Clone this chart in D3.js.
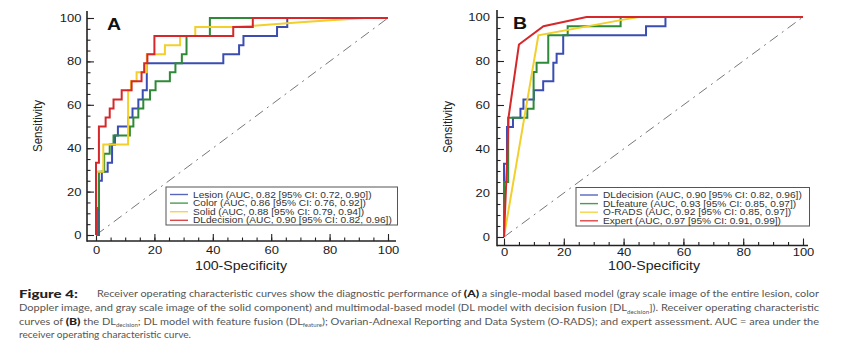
<!DOCTYPE html>
<html>
<head>
<meta charset="utf-8">
<script src="https://cdn.jsdelivr.net/npm/d3@7"></script>
<style>
body { margin: 0; background: #fff; }
svg { display: block; }
</style>
</head>
<body>
<svg id="chart" width="848" height="344"></svg>
<script>
// tick values shared by both panels
var xTicks = [0, 20, 40, 60, 80, 100];
var yTicks = [0, 20, 40, 60, 80, 100];
var minorTicks = [0, 5, 10, 15, 20, 25, 30, 35, 40, 45, 50, 55, 60, 65, 70, 75, 80, 85, 90, 95, 100];

// panel A curves, points are [100-specificity, sensitivity]
var lesionA = [[0,0],[1,0],[1,25],[2,25],[2,29.2],[4,29.2],[4,33.3],[5.5,33.3],[5.5,41.7],[6.5,41.7],[6.5,45.8],[7.5,45.8],[7.5,50],[11,50],[11,54.2],[12.5,54.2],[12.5,58.3],[14.5,58.3],[14.5,62.5],[16,62.5],[16,66.7],[17.4,66.7],[17.4,79.2],[43.6,79.2],[43.6,83.3],[49,83.3],[49,87.5],[50.5,87.5],[50.5,91.7],[62,91.7],[62,95.8],[65.5,95.8],[65.5,100],[100,100]];
var colorA = [[0,0],[0.5,0],[0.5,12.5],[1,12.5],[1,29.2],[2.8,29.2],[2.8,37.5],[4.7,37.5],[4.7,41.7],[6,41.7],[6,45.8],[11.6,45.8],[11.6,50],[12.8,50],[12.8,54.2],[14.5,54.2],[14.5,58.3],[16.2,58.3],[16.2,62.5],[18.5,62.5],[18.5,66.7],[20.4,66.7],[20.4,70.8],[25.3,70.8],[25.3,75],[27.2,75],[27.2,79.2],[29.4,79.2],[29.4,83.3],[31,83.3],[31,91.7],[39,91.7],[39,100],[100,100]];
var solidA = [[0,0],[0,29.2],[2.5,29.2],[2.5,41.7],[11,41.7],[11,66.7],[12,66.7],[12,70.8],[13.9,70.8],[13.9,75],[17.4,75],[17.4,83.3],[23.6,83.3],[23.6,87.5],[28.8,87.5],[28.8,91.7],[34,91.7],[34,95.8],[47,95.8],[70,98],[92,100],[100,100]];
var decisionA = [[0,0],[0,33.3],[1,33.3],[1,50],[3.3,50],[3.3,54.2],[4.7,54.2],[4.7,58.3],[6,58.3],[6,62.5],[8.8,62.5],[8.8,66.7],[12.2,66.7],[12.2,70.8],[15.6,70.8],[15.6,75],[16.5,75],[16.5,79.2],[17.6,79.2],[17.6,83.3],[20,83.3],[20,91.7],[47,91.7],[47,95.8],[53.7,95.8],[53.7,100],[100,100]];

// panel B curves
var decisionB = [[0,0],[0,33.3],[1,33.3],[1,50],[3,50],[3,54.2],[5.5,54.2],[5.5,58.3],[6.5,58.3],[6.5,62.5],[10,62.5],[10,66.7],[13.1,66.7],[13.1,70.8],[16.5,70.8],[16.5,79.2],[17.6,79.2],[17.6,83.3],[19.8,83.3],[19.8,91.7],[47.5,91.7],[47.5,95.8],[54,95.8],[54,100],[100,100]];
var featureB = [[0,0],[0,25],[1.4,25],[1.4,54.2],[7.8,54.2],[7.8,58.3],[9.9,58.3],[9.9,75],[10.9,75],[10.9,79.2],[14.8,79.2],[14.8,91.7],[21.3,91.7],[21.3,95.8],[39,95.8],[39,100],[100,100]];
var oradsB = [[0,0],[0.5,4.2],[11.5,91.7],[40,98.8],[45,100],[100,100]];
var expertB = [[0,0],[0.5,16.7],[1,33.3],[1.5,54.2],[5,87.5],[13.2,95.8],[27.6,100],[100,100]];

var labelsA = ["Lesion (AUC, 0.82 [95% CI: 0.72, 0.90])", "Color (AUC, 0.86 [95% CI: 0.76, 0.92])", "Solid (AUC, 0.88 [95% CI: 0.79, 0.94])", "DLdecision (AUC, 0.90 [95% CI: 0.82, 0.96])"];
var labelsB = ["DLdecision (AUC, 0.90 [95% CI: 0.82, 0.96])", "DLfeature (AUC, 0.93 [95% CI: 0.85, 0.97])", "O-RADS (AUC, 0.92 [95% CI: 0.85, 0.97])", "Expert (AUC, 0.97 [95% CI: 0.91, 0.99])"];
var colors = ["#3b4db2", "#2e8a36", "#f2cf2a", "#d6282a"];

var svg = d3.select('#chart');
var SX = 1.18; // the figure text is a bit stretched horizontally
var font = "'Liberation Sans', Arial, sans-serif";

function stretched(sel, x, y, extra) {
    sel.attr('transform', 'translate(' + x + ',' + y + ') scale(' + SX + ',1)' + (extra || ''));
}

function drawPanel(p) {
    var x = d3.scaleLinear().domain([0, 100]).range(p.xRange);
    var y = d3.scaleLinear().domain([0, 100]).range(p.yRange);
    var g = svg.append('g');

    // minor ticks (pointing inward)
    g.append('g').attr('transform', 'translate(0,' + p.axisY + ')')
        .call(d3.axisBottom(x).tickValues(minorTicks).tickSize(-3.5).tickFormat(''));
    g.append('g').attr('transform', 'translate(' + p.axisX + ',0)')
        .call(d3.axisLeft(y).tickValues(minorTicks).tickSize(-3.5).tickFormat(''));

    // major ticks + labels
    g.append('g').attr('transform', 'translate(0,' + p.axisY + ')')
        .call(d3.axisBottom(x).tickValues(xTicks).tickSize(-7).tickPadding(p.xPad));
    g.append('g').attr('transform', 'translate(' + p.axisX + ',0)')
        .call(d3.axisLeft(y).tickValues(yTicks).tickSize(-7).tickPadding(p.yPad / SX));

    g.selectAll('.domain').remove();
    g.selectAll('.tick line').attr('stroke', '#222').attr('stroke-width', 1.1);
    g.selectAll('.tick text').attr('fill', '#1a1a1a').style('font-family', font).style('font-size', '11px')
        .attr('transform', 'scale(' + SX + ',1)');

    // axis lines
    g.append('line').attr('x1', p.axisX).attr('x2', p.axisX).attr('y1', p.axisTop).attr('y2', p.axisY + 0.8)
        .attr('stroke', '#222').attr('stroke-width', 1.6);
    g.append('line').attr('x1', p.axisX).attr('x2', p.axisRight).attr('y1', p.axisY).attr('y2', p.axisY)
        .attr('stroke', '#222').attr('stroke-width', 1.6);

    // chance diagonal
    g.append('line').attr('x1', x(0)).attr('y1', y(0)).attr('x2', x(100)).attr('y2', y(100))
        .attr('stroke', '#777').attr('stroke-width', 1).attr('stroke-dasharray', '10,5,2,5');

    var line = d3.line().x(function(d) { return x(d[0]); }).y(function(d) { return y(d[1]); });
    p.series.forEach(function(s, i) {
        g.append('path').datum(s).attr('d', line).attr('fill', 'none')
            .attr('stroke', colors[i]).attr('stroke-width', 2).attr('stroke-linejoin', 'miter');
    });

    // panel letter
    g.append('text').text(p.letter).style('font-family', font).style('font-weight', 'bold')
        .style('font-size', '16.5px').attr('fill', '#111').call(stretched, p.letterPos[0], p.letterPos[1]);

    // axis titles
    g.append('text').text('100-Specificity').attr('text-anchor', 'middle').style('font-family', font)
        .style('font-size', '12px').attr('fill', '#222').call(stretched, p.xTitle[0], p.xTitle[1]);
    g.append('text').text('Sensitivity').attr('text-anchor', 'middle').style('font-family', font)
        .style('font-size', '11.6px').attr('fill', '#222').call(stretched, p.yTitle[0], p.yTitle[1], ' rotate(-90)');

    // legend
    var lg = p.legend;
    g.append('rect').attr('x', lg.x).attr('y', lg.y).attr('width', lg.w).attr('height', lg.h)
        .attr('fill', '#fff').attr('stroke', '#555').attr('stroke-width', 1);
    p.labels.forEach(function(lab, i) {
        var cy = lg.y + 7.5 + i * 8.6;
        g.append('line').attr('x1', lg.x + 4).attr('x2', lg.x + 22).attr('y1', cy).attr('y2', cy)
            .attr('stroke', colors[i]).attr('stroke-width', 1.4).attr('opacity', 0.85);
        g.append('text').text(lab).style('font-family', font).style('font-size', '8.6px')
            .attr('fill', '#333').call(stretched, lg.x + 27, cy + 3);
    });
}

drawPanel({
    xRange: [96, 388], yRange: [235, 18],
    axisX: 87, axisY: 241, axisTop: 11, axisRight: 396,
    xPad: 5, yPad: 5.5,
    letter: 'A', letterPos: [107, 30],
    xTitle: [241, 270], yTitle: [42, 126],
    legend: { x: 166, y: 187, w: 231.5, h: 38 },
    labels: labelsA,
    series: [lesionA, colorA, solidA, decisionA]
});

drawPanel({
    xRange: [504, 803], yRange: [237, 17],
    axisX: 497, axisY: 245.5, axisTop: 10, axisRight: 808,
    xPad: 3, yPad: 7,
    letter: 'B', letterPos: [513, 28.5],
    xTitle: [654, 270], yTitle: [452, 127],
    legend: { x: 576, y: 187.5, w: 233.5, h: 38.5 },
    labels: labelsB,
    series: [decisionB, featureB, oradsB, expertB]
});

// caption
var capFont = "Lato, 'Open Sans', sans-serif";
var captionLines = [
    { x: 97, y: 297, len: 722, parts: [["Receiver operating characteristic curves show the diagnostic performance of ", ""], ["(A)", "b"], [" a single-modal based model (gray scale image of the entire lesion, color", ""]] },
    { x: 19, y: 311, len: 800, parts: [["Doppler image, and gray scale image of the solid component) and multimodal-based model (DL model with decision fusion [DL", ""], ["decision", "s"], ["]). Receiver operating characteristic", ""]] },
    { x: 19, y: 324.5, len: 800, parts: [["curves of ", ""], ["(B)", "b"], [" the DL", ""], ["decision", "s"], ["; DL model with feature fusion (DL", ""], ["feature", "s"], ["); Ovarian-Adnexal Reporting and Data System (O-RADS); and expert assessment. AUC = area under the", ""]] },
    { x: 19, y: 338, len: 172, parts: [["receiver operating characteristic curve.", ""]] }
];

svg.append('text').attr('x', 19).attr('y', 297.5).text('Figure 4:')
    .attr('textLength', 59).attr('lengthAdjust', 'spacingAndGlyphs')
    .style('font-family', capFont).style('font-weight', '900').style('font-size', '11px').attr('fill', '#222');

captionLines.forEach(function(ln) {
    var t = svg.append('text').attr('x', ln.x).attr('y', ln.y)
        .attr('textLength', ln.len).attr('lengthAdjust', 'spacingAndGlyphs')
        .style('font-family', capFont).style('font-size', '9px').attr('fill', '#555');
    var shifted = false;
    ln.parts.forEach(function(pt) {
        var ts = t.append('tspan').text(pt[0]);
        if (pt[1] === 'b') ts.style('font-weight', '900').style('font-size', '10px').attr('fill', '#222');
        if (pt[1] === 's') { ts.style('font-size', '5px').attr('dy', 2.5); shifted = true; }
        else if (shifted) { ts.attr('dy', -2.5); shifted = false; }
    });
});
</script>
</body>
</html>
